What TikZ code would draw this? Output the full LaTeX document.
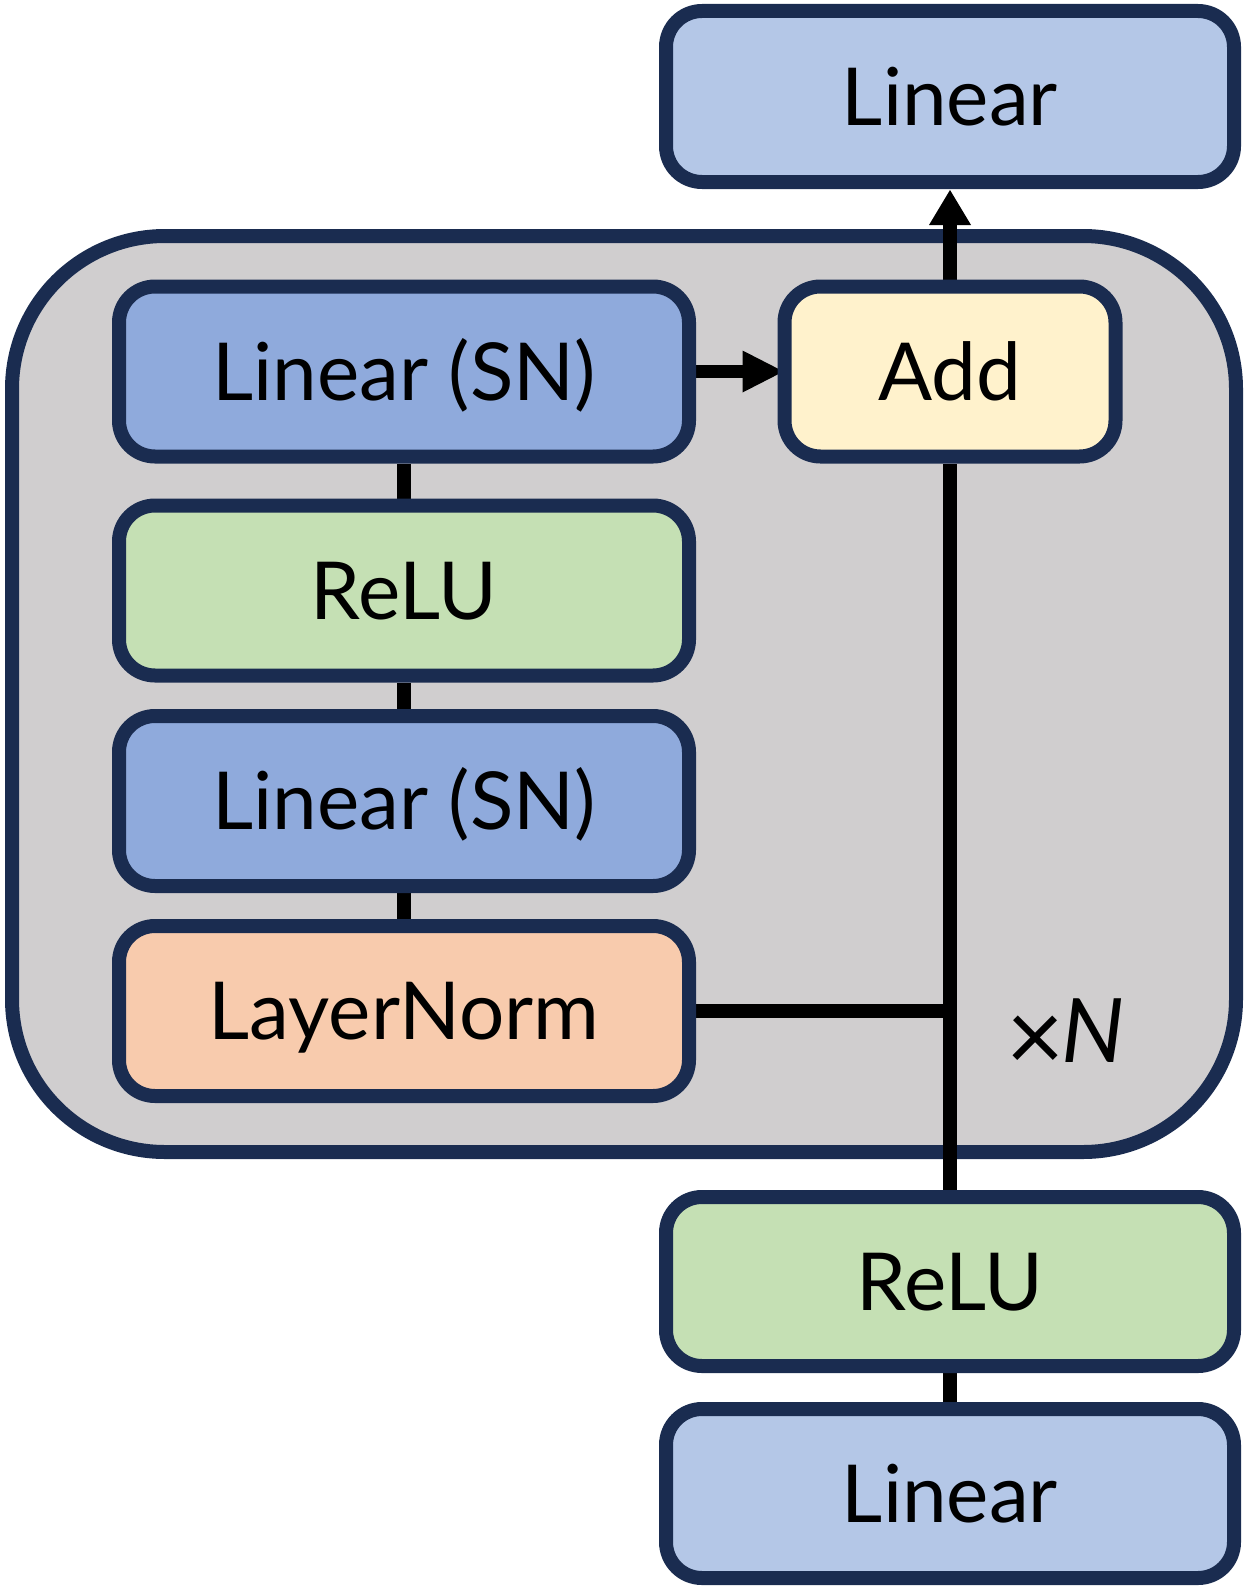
\documentclass[tikz,border=0pt]{standalone}
\usepackage{fontspec}
\setmainfont{Lato}
\usetikzlibrary{arrows.meta}
\pgfdeclarelayer{back}
\pgfdeclarelayer{mid}
\pgfsetlayers{back,mid,main}
\definecolor{navy}{HTML}{1A2C50}
\definecolor{linlight}{HTML}{B4C7E7}
\definecolor{linsn}{HTML}{8FAADC}
\definecolor{relugreen}{HTML}{C5E0B4}
\definecolor{lnorange}{HTML}{F8CBAD}
\definecolor{addyellow}{HTML}{FFF2CC}
\definecolor{contgray}{HTML}{D0CECF}
\begin{document}
\begin{tikzpicture}[x=1pt,y=-1pt,
  blk/.style={draw=navy,line width=14pt,rounded corners=36pt,minimum width=570pt,
    minimum height=170pt,inner sep=0pt,text height=57pt,text depth=0pt,
    font=\fontsize{80}{96}\selectfont,text=black},
  conn/.style={line width=13.5pt,draw=black},
  arr/.style={conn,-{Triangle[width=42pt,length=#1,line width=0pt]}},
  arr/.default=36pt]
\useasboundingbox (0,0) rectangle (1246,1595);
\begin{pgfonlayer}{back}
\draw[draw=navy,fill=contgray,line width=14pt,rounded corners=153pt] (12,236) rectangle (1236,1152);
\end{pgfonlayer}
\node[blk,fill=linlight,minimum width=568pt,minimum height=171pt] (lin1) at (950,96.5) {Linear};
\node[blk,fill=addyellow,minimum width=331pt] (add) at (950,371.5) {Add};
\node[blk,fill=linsn] (lsn1) at (404,371.5) {Linear (SN)};
\node[blk,fill=relugreen] (relu1) at (404,590.5) {ReLU};
\node[blk,fill=linsn] (lsn2) at (404,801) {Linear (SN)};
\node[blk,fill=lnorange] (ln) at (404,1011) {LayerNorm};
\node[blk,fill=relugreen,minimum width=568pt,minimum height=169pt] (relu2) at (950,1281.5) {ReLU};
\node[blk,fill=linlight,minimum width=568pt,minimum height=169pt] (lin2) at (950,1493.5) {Linear};
\node[inner sep=0pt,text height=64pt,text depth=0pt,font=\fontsize{89}{100}\selectfont] (times) at (1066,1030)
  {{\fontsize{100}{100}\selectfont\raisebox{-9pt}{×}}\kern-3pt\itshape N};
\begin{pgfonlayer}{mid}
\draw[conn] (lsn1) -- (relu1);
\draw[conn] (relu1) -- (lsn2);
\draw[conn] (lsn2) -- (ln);
\draw[arr=41pt,shorten >=-6pt] (lsn1.east) -- (add.west);
\draw[arr=35pt,shorten >=1pt] (add.north) -- (lin1.south);
\draw[conn] (relu2.north) -- (add.south);
\draw[conn] (ln.east) -- (ln.east -| add.south);
\draw[conn] (relu2) -- (lin2);
\end{pgfonlayer}
\end{tikzpicture}
\end{document}
